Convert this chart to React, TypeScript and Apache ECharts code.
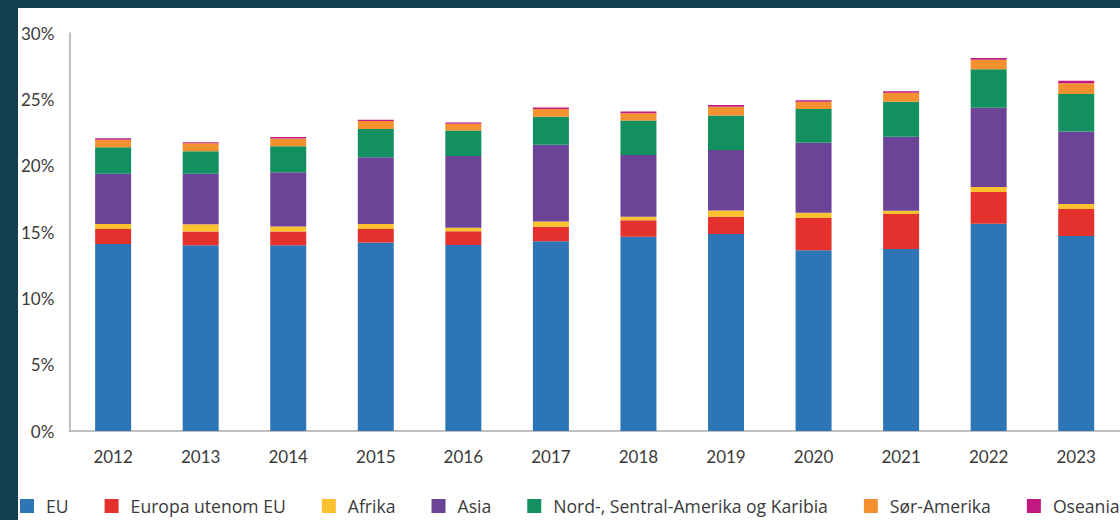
import React, { useEffect, useRef } from "react";
import * as echarts from "echarts";

const years = ["2012", "2013", "2014", "2015", "2016", "2017", "2018", "2019", "2020", "2021", "2022", "2023"];
const yTicks = [0, 5, 10, 15, 20, 25, 30];

const eu = [14.1, 14.0, 14.0, 14.2, 14.02, 14.3, 14.64, 14.85, 13.62, 13.72, 15.62, 14.69];
const europaUtenomEU = [1.12, 1.03, 1.03, 1.03, 1.03, 1.1, 1.24, 1.3, 2.43, 2.63, 2.39, 2.04];
const afrika = [0.38, 0.56, 0.38, 0.38, 0.27, 0.4, 0.27, 0.48, 0.4, 0.25, 0.38, 0.38];
const asia = [3.79, 3.81, 4.09, 5.03, 5.4, 5.78, 4.65, 4.55, 5.28, 5.58, 5.97, 5.47];
const nordAmerika = [1.99, 1.69, 1.96, 2.13, 1.94, 2.11, 2.61, 2.61, 2.54, 2.64, 2.9, 2.82];
const sorAmerika = [0.57, 0.6, 0.58, 0.6, 0.5, 0.58, 0.55, 0.65, 0.55, 0.67, 0.72, 0.82];
const oseania = [0.11, 0.08, 0.13, 0.1, 0.1, 0.12, 0.13, 0.13, 0.12, 0.11, 0.13, 0.18];

const seriesDefs = [
  { name: "EU", data: eu, color: "#2e75b5" },
  { name: "Europa utenom EU", data: europaUtenomEU, color: "#e5312d" },
  { name: "Afrika", data: afrika, color: "#fbc12e" },
  { name: "Asia", data: asia, color: "#6c4497" },
  { name: "Nord-, Sentral-Amerika og Karibia", data: nordAmerika, color: "#13905f" },
  { name: "Sør-Amerika", data: sorAmerika, color: "#f39131" },
  { name: "Oseania", data: oseania, color: "#c2187f" },
];

const FONT = "Lato, 'Noto Sans', sans-serif";
const LEGEND_FONT = "'Open Sans', 'Noto Sans', sans-serif";
const TEXT = "#3a3a3a";

export default function App() {
  const ref = useRef<HTMLDivElement>(null);
  useEffect(() => {
    if (!ref.current) return;
    const chart = echarts.init(ref.current, undefined, { renderer: "svg" });
    chart.setOption({
      animation: false,
      backgroundColor: "#ffffff",
      textStyle: { fontFamily: FONT },
      grid: { left: 49, top: 25, width: 1059, height: 398, containLabel: false },
      legend: {
        left: 2,
        top: 489,
        padding: 0,
        itemWidth: 14,
        itemHeight: 14,
        itemGap: 36,
        icon: "rect",
        textStyle: { fontSize: 17.6, color: TEXT, fontFamily: LEGEND_FONT, padding: [0, 0, 0, 7] },
        data: seriesDefs.map((s) => s.name),
      },
      xAxis: {
        type: "category",
        data: years,
        axisLine: { show: true, lineStyle: { color: "#ababab", width: 1.5 } },
        axisTick: { show: false },
        axisLabel: { fontSize: 17, color: TEXT, margin: 17, fontFamily: FONT },
        splitLine: { show: false },
      },
      yAxis: {
        type: "value",
        min: yTicks[0],
        max: yTicks[yTicks.length - 1],
        interval: 5,
        axisLine: { show: true, lineStyle: { color: "#ababab", width: 1.5 } },
        axisTick: { show: false },
        splitLine: { show: false },
        axisLabel: { fontSize: 17, color: TEXT, margin: 15, fontFamily: FONT, formatter: "{value}%" },
      },
      series: seriesDefs.map((s) => ({
        name: s.name,
        type: "bar",
        stack: "total",
        barWidth: 36,
        data: s.data,
        itemStyle: { color: s.color },
      })),
    });
    return () => chart.dispose();
  }, []);
  return (
    <div style={{ position: "absolute", left: 0, top: 0, width: 1120, height: 520, background: "#123f4f", overflow: "hidden" }}>
      <div style={{ position: "absolute", left: 18, top: 8, width: 1102, height: 512, background: "#fff", overflow: "hidden" }}>
        <div ref={ref} style={{ width: 1102, height: 512 }} />
      </div>
    </div>
  );
}
